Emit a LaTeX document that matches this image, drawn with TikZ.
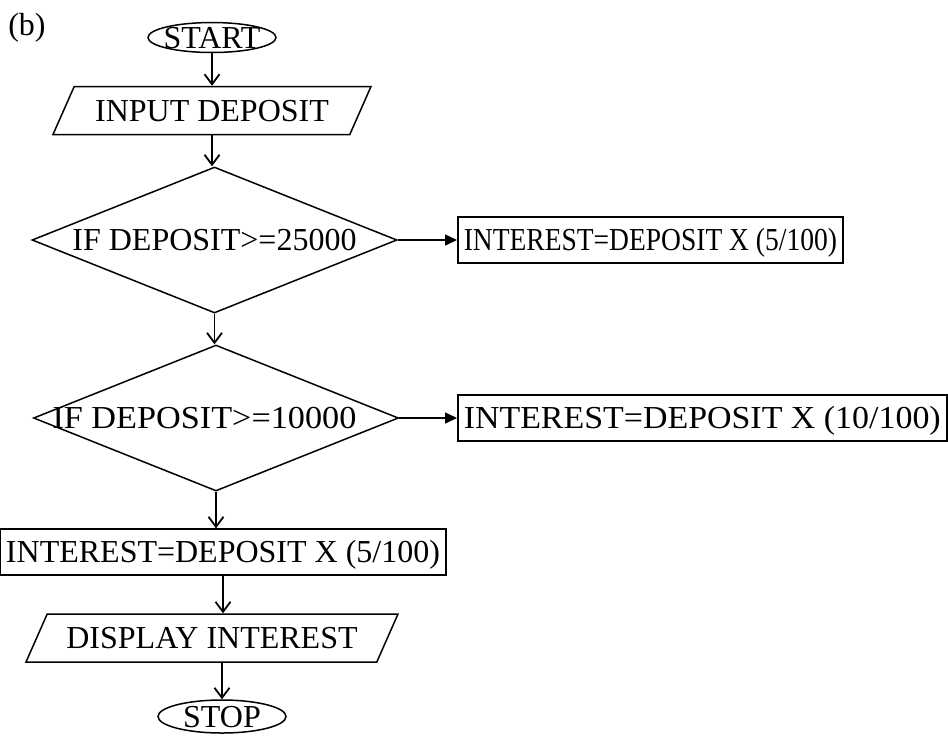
\documentclass[tikz,border=0pt]{standalone}
\usepackage{fontspec}
\setmainfont{Liberation Serif}
\usepackage{graphicx}
\usetikzlibrary{shapes.geometric,arrows.meta}

\begin{document}
\begin{tikzpicture}[x=0.5pt,y=0.5pt,yscale=-1,xscale=1,
    every node/.style={font=\fontsize{16}{19}\selectfont, text height=10.6pt, text depth=0pt},
    term/.style={draw, ellipse, line width=0.75pt, inner xsep=-6pt, inner ysep=0pt, minimum width=64pt, minimum height=14.5pt},
    inout/.style={draw, trapezium, trapezium left angle=45, trapezium right angle=135, trapezium stretches body, line width=0.75pt, inner xsep=-5pt, inner ysep=0pt, minimum height=24pt},
    decide/.style={draw, diamond, aspect=2.5, line width=0.75pt, inner sep=0pt, minimum width=182.5pt, minimum height=73pt},
    proc/.style={draw, rectangle, line width=0.75pt, inner xsep=3pt, inner ysep=0pt, minimum height=23pt},
    flow/.style={line width=0.9pt, -{Straight Barb[length=5pt,width=7.5pt,line width=0.9pt]}},
    yes/.style={line width=0.75pt, -{Triangle[length=6pt,width=5.5pt]}}]
\useasboundingbox (0,0) rectangle (948,735);

% Text Node
\node (lbl) at (27,25) {(b)};
%Shape: Ellipse
\node [term] (start) at (212,37.5) {START};
%Shape: Parallelogram
\node [inout, minimum width=159pt] (input) at (212,110.5) {INPUT DEPOSIT};
%Shape: Diamond
\node [decide] (dA) at (214.5,240) {IF DEPOSIT>=25000};
%Shape: Rectangle
\node [proc, anchor=west] (intA) at (457,240) {\scalebox{0.86}[1]{INTEREST=DEPOSIT X (5/100)}};
%Shape: Diamond
\node [decide] (dB) at (216,418) {\hspace*{-11.5pt}\scalebox{1.07}[1]{IF DEPOSIT>=10000}};
%Shape: Rectangle
\node [proc, anchor=west] (intB) at (457,418) {\scalebox{1.06}[1]{INTEREST=DEPOSIT X (10/100)}};
%Shape: Rectangle
\node [proc] (intC) at (223,552) {INTEREST=DEPOSIT X (5/100)};
%Shape: Parallelogram
\node [inout, minimum width=186pt] (show) at (212,638) {DISPLAY INTEREST};
%Shape: Ellipse
\node [term, minimum height=16.5pt] (stop) at (222,716.5) {STOP};

%Straight Lines
\draw [flow] (start) -- (input);
\draw [flow] (input.south) -- (input.south |- dA.north);
\draw [flow] (dA.south) -- (dA.south |- dB.north);
\draw [flow] (dB.south) -- (dB.south |- intC.north);
\draw [flow] (intC.south) -- (intC.south |- show.north);
\draw [flow] (stop.north |- show.south) -- (stop.north);
\draw [yes] (dA.east) -- (intA.west);
\draw [yes] (dB.east) -- (intB.west);
\end{tikzpicture}
\end{document}
